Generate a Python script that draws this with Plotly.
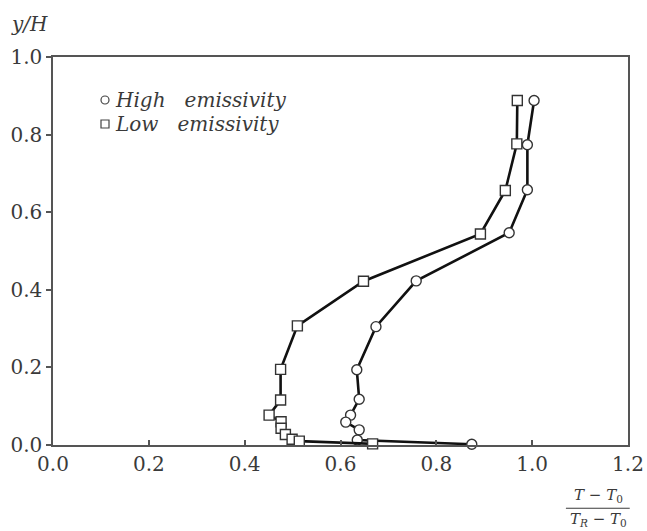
import plotly.graph_objects as go

# High emissivity (circles)
high_x = [1.004, 0.990, 0.990, 0.952, 0.758, 0.674, 0.634, 0.639, 0.621, 0.611, 0.639, 0.635, 0.874]
high_y = [0.888, 0.774, 0.658, 0.547, 0.423, 0.305, 0.194, 0.118, 0.077, 0.059, 0.039, 0.013, 0.002]

# Low emissivity (squares)
low_x = [0.969, 0.968, 0.944, 0.892, 0.648, 0.510, 0.475, 0.475, 0.451, 0.476, 0.476, 0.485, 0.499, 0.514, 0.667]
low_y = [0.888, 0.776, 0.656, 0.544, 0.422, 0.307, 0.195, 0.116, 0.077, 0.060, 0.043, 0.027, 0.015, 0.010, 0.003]

x_ticks = [0.0, 0.2, 0.4, 0.6, 0.8, 1.0, 1.2]
y_ticks = [0.0, 0.2, 0.4, 0.6, 0.8, 1.0]

legend_labels = ["High   emissivity", "Low   emissivity"]

FONT = "DejaVu Serif"
AX = "#555555"
TXT = "#3a3a3a"

marker_style = dict(size=10, color="white", line=dict(color="#333333", width=1.4))

fig = go.Figure()
fig.add_trace(go.Scatter(x=high_x, y=high_y, mode="lines+markers", name=legend_labels[0],
                         line=dict(color="#111111", width=2.6),
                         marker=dict(symbol="circle", **marker_style),
                         showlegend=False, cliponaxis=False))
fig.add_trace(go.Scatter(x=low_x, y=low_y, mode="lines+markers", name=legend_labels[1],
                         line=dict(color="#111111", width=2.6),
                         marker=dict(symbol="square", **marker_style),
                         showlegend=False, cliponaxis=False))

axis_common = dict(showline=True, linecolor=AX, linewidth=1.5, mirror=True,
                   showgrid=False, zeroline=False, automargin=False,
                   tickfont=dict(family=FONT, size=20, color=TXT),
                   tickcolor=AX, tickwidth=1.5, ticklen=5)

fig.update_xaxes(range=[0, 1.2], tickvals=x_ticks,
                 ticktext=[f"{v:.1f}" for v in x_ticks], ticks="inside", **axis_common)
fig.update_yaxes(range=[0, 1.0], tickvals=y_ticks,
                 ticktext=[f"{v:.1f}" for v in y_ticks], ticks="outside", **axis_common)

# legend drawn manually (markers only, italic text)
PW, PH, L, T = 575, 388, 53, 57
def px(xp):
    return (xp - L) / PW
def py(yp):
    return (T + PH - yp) / PH

leg_rows = [100, 124]
leg_mx = 105
shapes = [
    dict(type="circle", xref="paper", yref="paper", xsizemode="pixel", ysizemode="pixel",
         xanchor=px(leg_mx), yanchor=py(leg_rows[0]), x0=-4, x1=4, y0=-4, y1=4,
         line=dict(color="#444444", width=1.2), fillcolor="white"),
    dict(type="rect", xref="paper", yref="paper", xsizemode="pixel", ysizemode="pixel",
         xanchor=px(leg_mx), yanchor=py(leg_rows[1]), x0=-4, x1=4, y0=-4, y1=4,
         line=dict(color="#444444", width=1.2), fillcolor="white"),
    dict(type="line", xref="paper", yref="paper", x0=0.892, x1=1.003,
         y0=-0.163, y1=-0.163, line=dict(color=TXT, width=1.2)),
]

annotations = [
    dict(text="<i>y/H</i>", xref="paper", yref="paper", x=-0.077, y=1.05,
         xanchor="left", yanchor="bottom", showarrow=False,
         font=dict(family=FONT, size=20, color=TXT)),
    dict(text="<i>T</i> − <i>T</i><sub>0</sub>", xref="paper", yref="paper",
         x=0.948, y=-0.131, xanchor="center", yanchor="middle", showarrow=False,
         font=dict(family=FONT, size=15, color=TXT)),
    dict(text="<i>T<sub>R</sub></i> − <i>T</i><sub>0</sub>", xref="paper", yref="paper",
         x=0.948, y=-0.192, xanchor="center", yanchor="middle", showarrow=False,
         font=dict(family=FONT, size=15, color=TXT)),
]
for lab, row in zip(legend_labels, leg_rows):
    annotations.append(dict(text=f"<i>{lab.replace(' ', '&nbsp;')}</i>", xref="paper", yref="paper",
                            x=px(114), y=py(row), xanchor="left", yanchor="middle",
                            showarrow=False, borderpad=0,
                            font=dict(family=FONT, size=20, color=TXT)))

fig.update_layout(
    width=647, height=531,
    margin=dict(l=L, r=647 - L - PW, t=T, b=531 - T - PH, autoexpand=False),
    paper_bgcolor="white", plot_bgcolor="white",
    showlegend=False,
    annotations=annotations,
    shapes=shapes,
)

fig.write_html("out.html")
